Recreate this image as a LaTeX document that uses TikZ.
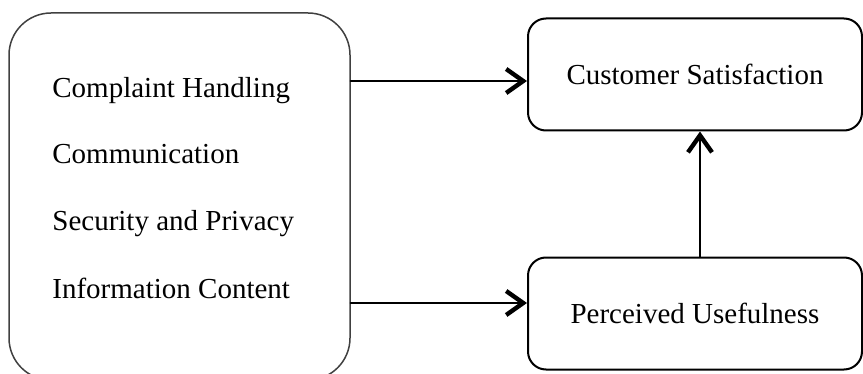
\documentclass[tikz,border=0pt]{standalone}
\usepackage{fontspec}
\setmainfont{Liberation Serif}
\usetikzlibrary{arrows.meta}

\begin{document}
\begin{tikzpicture}
		[x=0.5pt,y=-0.5pt,line cap=round,
		%Styles
		factor box/.style={draw=black!75,line width=0.75pt,rounded corners=21pt,minimum width=170.5pt,minimum height=183.5pt,inner sep=0pt},
		main node/.style={draw,line width=1pt,rounded corners=9pt,minimum width=167pt,minimum height=56pt,inner sep=0pt,font=\fontsize{14.5}{17}\selectfont},
		factor text/.style={anchor=base west,inner sep=0pt,font=\fontsize{14.5}{17}\selectfont},
		link/.style={line width=1.25pt,-{Straight Barb[length=8.5pt,width=12pt,line width=2.2pt]}}
		]
		
		\useasboundingbox (0,0) rectangle (863,374);
		
		%The graphic
		\node[factor box] (F) at (179.5,196.5) {};
		\node[factor text] (ch) at (52,98) {Complaint Handling};
		\node[factor text] (cm) at (52,164) {Communication};
		\node[factor text] (sp) at (52,231) {Security and Privacy};
		\node[factor text] (ic) at (52,299) {Information Content};
		
		\node[main node] (CS) at (695,74.5) {Customer Satisfaction};
		\node[main node] (PU) at (695,313.5) {Perceived Usefulness};
		
		\coordinate (f1) at (F.east |- 0,81);
		\coordinate (f2) at (F.east |- 0,303);
		\coordinate (pu) at (700,0);
		
		\draw[link] (f1) -- (f1 -| CS.west);
		\draw[link] (f2) -- (f2 -| PU.west);
		\draw[link] (pu |- PU.north) -- (pu |- CS.south);
	\end{tikzpicture}
\end{document}
